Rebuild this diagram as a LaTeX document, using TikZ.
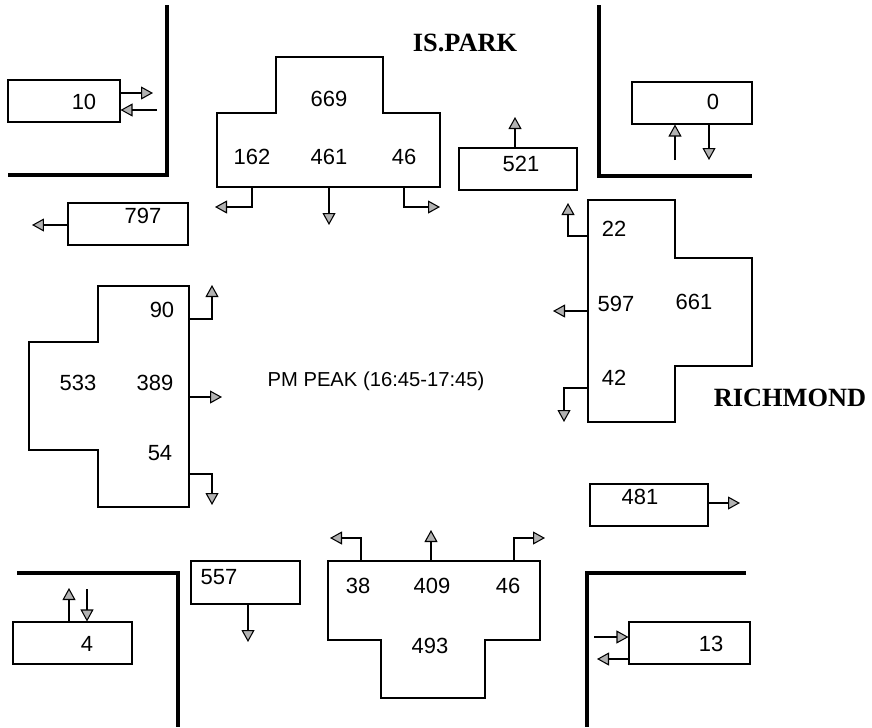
\documentclass[tikz,border=0pt]{standalone}
\usepackage{fontspec}
\setmainfont{Liberation Sans}
\newfontfamily\streetfont{Liberation Serif}
\usetikzlibrary{arrows.meta, fit}

\begin{document}
\begin{tikzpicture}[
  x=0.02cm, y=-0.02cm,
  box/.style={draw, line width=0.6pt, inner sep=0pt},
  lane/.style={draw, line width=0.6pt},
  num/.style={font=\fontsize{12.5}{14}\selectfont},
  curb/.style={line width=1.8pt},
  flow/.style={-{Triangle[length=2.4mm, width=2.6mm, fill=gray!60]}, line width=0.6pt},
  street/.style={font=\streetfont\bfseries\fontsize{15}{17}\selectfont}
]
  \useasboundingbox (0,0) rectangle (872,727);

  % kerbs
  \draw[curb] (167,5) -- (167,175) -- (8,175);
  \draw[curb] (599,5) -- (599,176) -- (752,176);
  \draw[curb] (17,573) -- (178,573) -- (178,727);
  \draw[curb] (746,573) -- (587,573) -- (587,727);

  \node[street] (park) at (465,43) {IS.PARK};
  \node[street] (rich) at (790,398) {RICHMOND};
  \node[font=\fontsize{11.5}{13}\selectfont] (peak) at (376,381) {PM PEAK (16:45-17:45)};

  % corner boxes
  \node[box, fit={(8,80) (120,122)}] (b10) {};
  \node[num] (t10) at (84,102) {10};
  \coordinate (o10) at (153,93);
  \coordinate (i10) at (157,110);
  \draw[flow] (b10.east |- o10) -- (o10);
  \draw[flow] (i10) -- (i10 -| b10.east);

  \node[box, fit={(68,203) (188,245)}] (b797) {};
  \node[num] (t797) at (143,216) {797};
  \coordinate (o797) at (32,225);
  \draw[flow] (b797.west |- o797) -- (o797);

  \node[box, fit={(459,148) (577,190)}] (b521) {};
  \node[num] (t521) at (521,164) {521};
  \coordinate (o521) at (515,117);
  \draw[flow] (b521.north -| o521) -- (o521);

  \node[box, fit={(632,82) (752,124)}] (b0) {};
  \node[num] (t0) at (713,102) {0};
  \coordinate (i0) at (675,160);
  \coordinate (o0) at (709,160);
  \draw[flow] (i0) -- (i0 |- b0.south);
  \draw[flow] (b0.south -| o0) -- (o0);

  \node[box, fit={(590,484) (708,526)}] (b481) {};
  \node[num] (t481) at (640,497) {481};
  \coordinate (o481) at (740,503);
  \draw[flow] (b481.east |- o481) -- (o481);

  \node[box, fit={(191,561) (300,604)}] (b557) {};
  \node[num] (t557) at (219,577) {557};
  \coordinate (o557) at (248,642);
  \draw[flow] (b557.south -| o557) -- (o557);

  \node[box, fit={(13,622) (132,664)}] (b4) {};
  \node[num] (t4) at (87,644) {4};
  \coordinate (o4) at (69,588);
  \coordinate (i4) at (87,589);
  \draw[flow] (b4.north -| o4) -- (o4);
  \draw[flow] (i4) -- (i4 |- b4.north);

  \node[box, fit={(629,622) (750,664)}] (b13) {};
  \node[num] (t13) at (711,644) {13};
  \coordinate (i13) at (594,637);
  \coordinate (o13) at (597,659);
  \draw[flow] (i13) -- (i13 -| b13.west);
  \draw[flow] (b13.west |- o13) -- (o13);

  % north approach
  \draw[lane] (276,57) -- (383,57) -- (383,113) -- (440,113) -- (440,187)
    -- (217,187) -- (217,113) -- (276,113) -- cycle;
  \node[num] (n669) at (329,99) {669};
  \node[num] (n162) at (252,157) {162};
  \node[num] (n461) at (329,157) {461};
  \node[num] (n46) at (404,157) {46};
  \coordinate (nL) at (252,187); \coordinate (nLe) at (215,207);
  \coordinate (nT) at (329,187); \coordinate (nTe) at (329,225);
  \coordinate (nR) at (404,187); \coordinate (nRe) at (440,207);
  \draw[flow] (nL) |- (nLe);
  \draw[flow] (nT) -- (nTe);
  \draw[flow] (nR) |- (nRe);

  % east approach
  \draw[lane] (588,200) -- (675,200) -- (675,258) -- (752,258) -- (752,366)
    -- (675,366) -- (675,422) -- (588,422) -- cycle;
  \node[num] (e22) at (614,229) {22};
  \node[num] (e597) at (616,304) {597};
  \node[num] (e661) at (694,302) {661};
  \node[num] (e42) at (614,378) {42};
  \coordinate (eR) at (588,236); \coordinate (eRe) at (568,203);
  \coordinate (eT) at (588,311); \coordinate (eTe) at (553,311);
  \coordinate (eL) at (588,388); \coordinate (eLe) at (564,422);
  \draw[flow] (eR) -| (eRe);
  \draw[flow] (eT) -- (eTe);
  \draw[flow] (eL) -| (eLe);

  % west approach
  \draw[lane] (98,286) -- (189,286) -- (189,507) -- (98,507) -- (98,450)
    -- (29,450) -- (29,342) -- (98,342) -- cycle;
  \node[num] (w90) at (162,310) {90};
  \node[num] (w533) at (78,383) {533};
  \node[num] (w389) at (155,383) {389};
  \node[num] (w54) at (160,453) {54};
  \coordinate (wL) at (189,319); \coordinate (wLe) at (212,285);
  \coordinate (wT) at (189,397); \coordinate (wTe) at (222,397);
  \coordinate (wR) at (189,474); \coordinate (wRe) at (212,505);
  \draw[flow] (wL) -| (wLe);
  \draw[flow] (wT) -- (wTe);
  \draw[flow] (wR) -| (wRe);

  % south approach
  \draw[lane] (328,561) -- (540,561) -- (540,640) -- (485,640) -- (485,698)
    -- (381,698) -- (381,640) -- (328,640) -- cycle;
  \node[num] (s38) at (358,586) {38};
  \node[num] (s409) at (432,586) {409};
  \node[num] (s46) at (508,586) {46};
  \node[num] (s493) at (430,646) {493};
  \coordinate (sL) at (361,561); \coordinate (sLe) at (330,538);
  \coordinate (sT) at (431,561); \coordinate (sTe) at (431,530);
  \coordinate (sR) at (514,561); \coordinate (sRe) at (545,538);
  \draw[flow] (sL) |- (sLe);
  \draw[flow] (sT) -- (sTe);
  \draw[flow] (sR) |- (sRe);
\end{tikzpicture}
\end{document}
